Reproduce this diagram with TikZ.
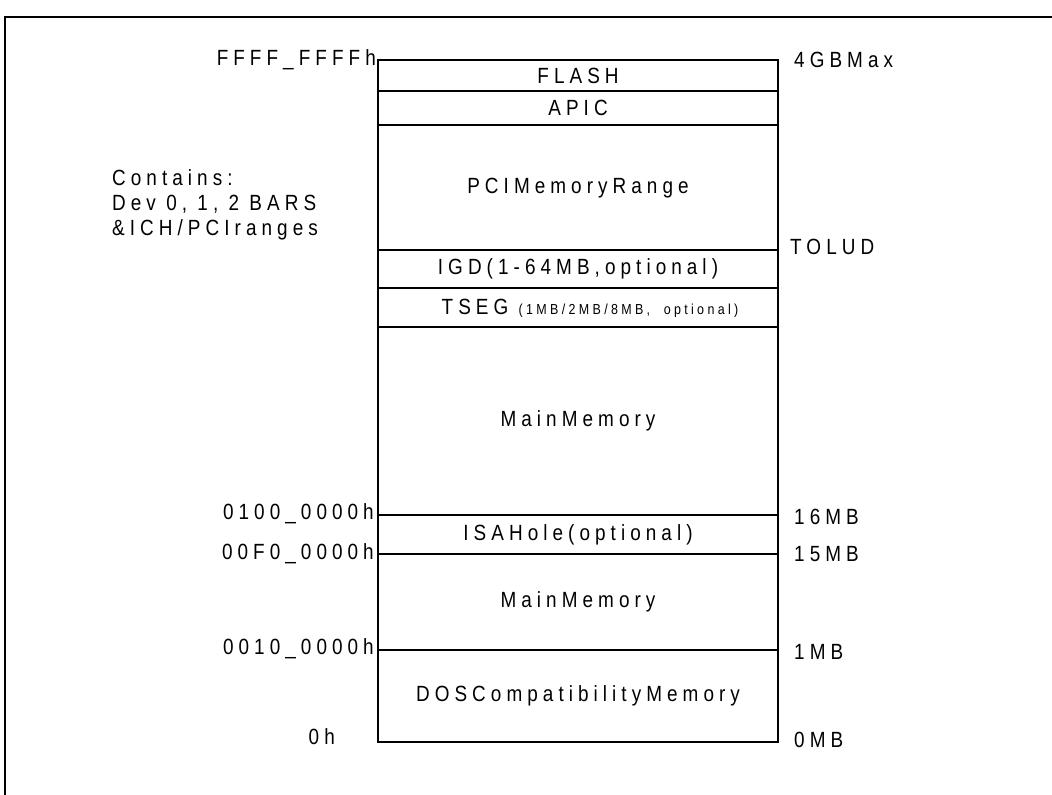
\documentclass[tikz,border=0pt]{standalone}
\usepackage{fontspec}
\newfontfamily\memfont{Liberation Sans}[FakeStretch=0.86,LetterSpace=23]
\usetikzlibrary{positioning}

\begin{document}
\begin{tikzpicture}[x=1pt,y=-1pt,
  txt/.style={font=\memfont\fontsize{22}{24.5}\selectfont,inner sep=0pt}]
\useasboundingbox (0,0) rectangle (1052,795);
\draw[line width=1.6pt] (5,795) -- (5,17) -- (1052,17);

% left and right ends of the boundary lines
\coordinate (l1) at (378,60);   \coordinate (r1) at (778,60);
\coordinate (l2) at (378,91);   \coordinate (r2) at (778,91);
\coordinate (l3) at (378,125);  \coordinate (r3) at (778,125);
\coordinate (l4) at (378,250);  \coordinate (r4) at (778,250);
\coordinate (l5) at (378,288);  \coordinate (r5) at (778,288);
\coordinate (l6) at (378,327);  \coordinate (r6) at (778,327);
\coordinate (l7) at (378,515);  \coordinate (r7) at (778,515);
\coordinate (l8) at (378,554);  \coordinate (r8) at (778,554);
\coordinate (l9) at (378,650);  \coordinate (r9) at (778,650);
\coordinate (l10) at (378,742); \coordinate (r10) at (778,742);

\draw[line width=1.2pt] (l1) -- (r1) -- (r10) -- (l10) -- cycle;
\draw[line width=1.2pt] (l2) -- (r2) (l3) -- (r3) (l4) -- (r4) (l5) -- (r5)
  (l6) -- (r6) (l7) -- (r7) (l8) -- (r8) (l9) -- (r9);

% regions
\node[txt] (flash) at (578,75.5) {FLASH};
\node[txt] (apic) at (578,108) {APIC};
\node[txt] (pci) at (578,188) {PCIMemoryRange};
\node[txt] (igd) at (578,269) {IGD(1-64MB,optional)};
\node[txt] (tseg) at (590,308) {TSEG {\fontsize{14.5}{16}\selectfont(1MB/2MB/8MB,\ \ optional)}};
\node[txt] (main2) at (578,421) {MainMemory};
\node[txt] (isa) at (578,534.5) {ISAHole(optional)};
\node[txt] (main1) at (578,602) {MainMemory};
\node[txt] (dos) at (578,696) {DOSCompatibilityMemory};

% addresses
\node[txt,left=2pt of l1] (a1) {FFFF\_FFFFh};
\node[txt,left=4pt of l7,yshift=1pt] (a7) {0100\_0000h};
\node[txt,left=4pt of l8] (a8) {00F0\_0000h};
\node[txt,left=4pt of l9,yshift=1pt] (a9) {0010\_0000h};
\node[txt,left=43pt of l10,yshift=5pt] (a10) {0h};

\node[txt,right=16pt of r1] (s1) {4GBMax};
\node[txt,right=12pt of r4,yshift=3pt] (s4) {TOLUD};
\node[txt,right=16pt of r7,yshift=-2pt] (s7) {16MB};
\node[txt,right=16pt of r8] (s8) {15MB};
\node[txt,right=16pt of r9,yshift=-2pt] (s9) {1MB};
\node[txt,right=16pt of r10,yshift=2pt] (s10) {0MB};

\node[txt,align=left,anchor=north west,font=\memfont\fontsize{22}{25}\selectfont] (note) at (112,169)
  {Contains:\\Dev 0, 1, 2 BARS\\\&ICH/PCIranges};
\end{tikzpicture}
\end{document}
